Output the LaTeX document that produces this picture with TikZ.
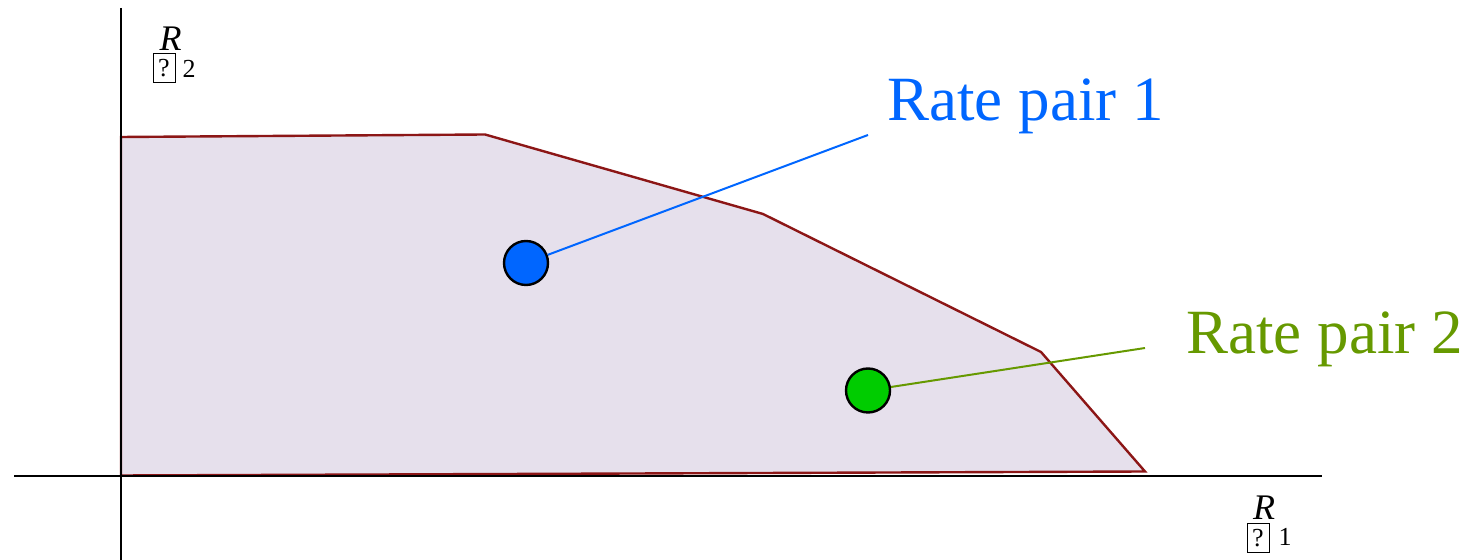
\documentclass[tikz,border=0pt]{standalone}
\usepackage{fontspec}
\setmainfont{Liberation Serif}
\usepackage{tikz}
\usetikzlibrary{positioning}
\definecolor{regionfill}{RGB}{230,224,236}
\definecolor{regionline}{RGB}{140,22,22}
\definecolor{pairblue}{RGB}{0,102,255}
\definecolor{pairgreen}{RGB}{0,204,0}
\definecolor{labgreen}{RGB}{102,153,0}

\begin{document}
\begin{tikzpicture}[x=0.5pt,y=-0.5pt,
        axis/.style={line width=1pt,black},
        pairdot/.style={circle,draw=black,line width=1.2pt,minimum size=22pt,inner sep=0pt},
        pairlab/.style={inner sep=0pt,anchor=base west,font=\fontsize{31.5}{36}\selectfont},
        axname/.style={inner sep=0pt,anchor=base,font=\fontsize{18}{20}\selectfont\itshape},
        missbox/.style={draw=black,line width=0.5pt,minimum width=11pt,minimum height=14.5pt,inner sep=0pt,font=\fontsize{13}{14}\selectfont},
        axsub/.style={inner sep=0pt,font=\fontsize{13}{14}\selectfont}]
            \useasboundingbox (0,0) rectangle (1473,560);
            \coordinate (ytop) at (121,8);
            \coordinate (ybot) at (121,560);
            \coordinate (xleft) at (14,476);
            \coordinate (xright) at (1322,476);
            \draw[regionline,fill=regionfill,line width=1.2pt,line join=miter]
                (121,137) -- (485,134.5) -- (763,214) -- (1041,352) -- (1145,471.5) -- (121,475.5) -- cycle;
            \draw[axis] (ytop) -- (ybot);
            \draw[axis] (xleft) -- (xright);
            \node[axname] (rtwo) at (170.5,51) {R};
            \node[missbox] (rtwobox) at (164,68) {?};
            \node[axsub] (rtwosub) at (189,68.5) {2};
            \node[axname] (rone) at (1264,520) {R};
            \node[missbox] (ronebox) at (1258,538) {?};
            \node[axsub] (ronesub) at (1285,537) {1};
            \node[pairdot,fill=pairblue] (pairone) at (526,263) {};
            \node[pairdot,fill=pairgreen] (pairtwo) at (868,390.5) {};
            \node[pairlab,text=pairblue] (labone) at (887,121) {Rate pair 1};
            \node[pairlab,text=labgreen] (labtwo) at (1186,354) {Rate pair 2};
            \coordinate (endone) at (868,135);
            \coordinate (endtwo) at (1145,348);
            \draw[pairblue,line width=1pt] (pairone) -- (endone);
            \draw[labgreen,line width=1pt] (pairtwo) -- (endtwo);
        \end{tikzpicture}
\end{document}
